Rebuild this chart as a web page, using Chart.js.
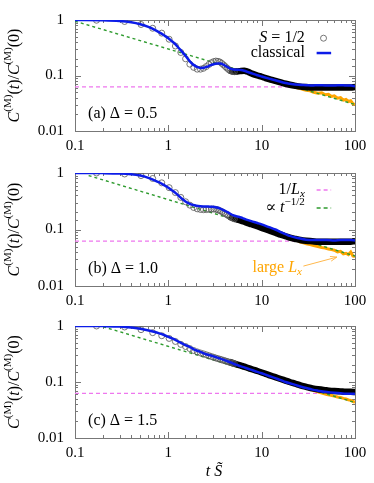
<!DOCTYPE html>
<html>
<head>
<meta charset="utf-8">
<script src="https://cdn.jsdelivr.net/npm/chart.js@4.4.1/dist/chart.umd.min.js"></script>
<style>
  html, body { margin: 0; padding: 0; background: #fff; }
  #wrap { position: relative; width: 374px; height: 483px; }
  canvas { position: absolute; left: 0; }
</style>
</head>
<body>
<div id="wrap">
  <canvas id="panel-a" width="374" height="153" style="top:0px"></canvas>
  <canvas id="panel-b" width="374" height="153" style="top:153px"></canvas>
  <canvas id="panel-c" width="374" height="177" style="top:306px"></canvas>
</div>
<script>
// tick labels
const xTickLabels = ["0.1", "1", "10", "100"];
const yTickLabels = ["0.01", "0.1", "1"];

// S = 1/2 data, open circles (sparse part)
const spinTimes = [0.17, 0.34, 0.51, 0.68, 0.85, 1.02, 1.19, 1.36, 1.53, 1.70, 1.87, 2.04, 2.21, 2.38, 2.55,
  2.72, 2.89, 3.06, 3.23, 3.40, 3.57, 3.74, 3.91, 4.08, 4.25, 4.42, 4.59, 4.76, 4.93, 5.10];
const spinA = [0.99, 0.94, 0.83, 0.71, 0.58, 0.45, 0.34, 0.26, 0.20, 0.16, 0.14, 0.13, 0.13, 0.135, 0.145,
  0.158, 0.17, 0.178, 0.182, 0.18, 0.175, 0.165, 0.155, 0.145, 0.136, 0.128, 0.123, 0.12, 0.118, 0.117];
const spinB = [1.0, 0.96, 0.9, 0.8, 0.67, 0.55, 0.45, 0.37, 0.31, 0.27, 0.245, 0.232, 0.226, 0.224, 0.225,
  0.228, 0.23, 0.23, 0.228, 0.222, 0.215, 0.207, 0.198, 0.19, 0.182, 0.175, 0.169, 0.163, 0.158, 0.154];
const spinC = [1.0, 0.96, 0.86, 0.76, 0.67, 0.6, 0.53, 0.47, 0.43, 0.395, 0.365, 0.345, 0.33, 0.318, 0.306,
  0.295, 0.285, 0.276, 0.268, 0.261, 0.255, 0.249, 0.243, 0.238, 0.233, 0.228, 0.224, 0.22, 0.216, 0.212];

// S = 1/2 data where the circles pile up into a solid band
const bandTimes = [4.5, 5, 5.5, 6, 6.5, 7, 7.5, 8, 9, 10, 11, 12, 14, 16, 18, 20, 23, 26, 30, 35, 40, 50, 60, 70, 80, 90, 100];
const bandA = [0.123, 0.118, 0.118, 0.121, 0.122, 0.118, 0.112, 0.107, 0.1, 0.095, 0.09, 0.086, 0.08, 0.075, 0.071,
  0.068, 0.065, 0.063, 0.062, 0.061, 0.061, 0.061, 0.061, 0.061, 0.061, 0.061, 0.062];
const bandB = [0.168, 0.158, 0.15, 0.143, 0.137, 0.131, 0.126, 0.122, 0.114, 0.107, 0.101, 0.096, 0.088, 0.081, 0.076,
  0.072, 0.068, 0.065, 0.063, 0.062, 0.061, 0.061, 0.061, 0.061, 0.061, 0.061, 0.062];
const bandC = [0.23, 0.215, 0.205, 0.196, 0.188, 0.18, 0.173, 0.167, 0.157, 0.148, 0.14, 0.133, 0.122, 0.113, 0.106,
  0.1, 0.093, 0.087, 0.082, 0.077, 0.074, 0.071, 0.069, 0.068, 0.067, 0.067, 0.066];

// classical (blue line)
const classicalTimes = [0.1, 0.2, 0.3, 0.4, 0.5, 0.6, 0.7, 0.8, 0.9, 1.0, 1.1, 1.2, 1.3, 1.4, 1.5, 1.6, 1.7, 1.8, 1.9, 2.0,
  2.2, 2.4, 2.6, 2.8, 3.0, 3.2, 3.4, 3.6, 3.8, 4.0, 4.3, 4.6, 5.0, 5.5, 6.0, 6.5, 7.0, 8, 9, 10,
  12, 14, 16, 18, 20, 25, 30, 35, 40, 50, 60, 70, 80, 90, 100];
const classicalA = [1.0, 0.99, 0.96, 0.91, 0.84, 0.76, 0.68, 0.6, 0.53, 0.47, 0.41, 0.36, 0.31, 0.27, 0.235, 0.205, 0.18, 0.163, 0.152, 0.145,
  0.137, 0.138, 0.144, 0.152, 0.158, 0.163, 0.165, 0.164, 0.16, 0.153, 0.142, 0.133, 0.128, 0.127, 0.126, 0.122, 0.117, 0.108, 0.101, 0.096,
  0.088, 0.082, 0.077, 0.073, 0.071, 0.068, 0.067, 0.066, 0.067, 0.066, 0.066, 0.067, 0.066, 0.066, 0.064];
const classicalB = [1.0, 0.995, 0.98, 0.95, 0.9, 0.83, 0.75, 0.68, 0.61, 0.55, 0.49, 0.44, 0.39, 0.35, 0.32, 0.3, 0.285, 0.275, 0.268, 0.263,
  0.258, 0.256, 0.255, 0.254, 0.252, 0.248, 0.242, 0.234, 0.225, 0.216, 0.203, 0.19, 0.178, 0.17, 0.163, 0.155, 0.148, 0.138, 0.13, 0.123,
  0.11, 0.1, 0.09, 0.083, 0.077, 0.07, 0.066, 0.065, 0.065, 0.065, 0.064, 0.065, 0.065, 0.065, 0.064];
const classicalC = [1.0, 0.995, 0.98, 0.94, 0.89, 0.84, 0.79, 0.74, 0.69, 0.64, 0.6, 0.56, 0.52, 0.49, 0.46, 0.44, 0.42, 0.4, 0.38, 0.365,
  0.345, 0.325, 0.31, 0.3, 0.29, 0.28, 0.27, 0.262, 0.254, 0.246, 0.235, 0.225, 0.212, 0.2, 0.19, 0.182, 0.174, 0.162, 0.152, 0.143,
  0.128, 0.117, 0.108, 0.1, 0.095, 0.085, 0.078, 0.073, 0.07, 0.066, 0.064, 0.063, 0.062, 0.062, 0.061];

// large L_x (orange)
const largeTimesAB = [12, 14, 16, 18, 20, 22, 24, 26, 28, 30, 33, 36, 40, 44, 48, 52, 56, 60, 65, 70, 75, 80, 85, 90, 95, 100];
const largeA = [0.087, 0.081, 0.077, 0.072, 0.068, 0.064, 0.06, 0.058, 0.056, 0.054, 0.053, 0.05, 0.048, 0.049, 0.045, 0.046,
  0.042, 0.043, 0.039, 0.04, 0.036, 0.037, 0.034, 0.035, 0.031, 0.03];
const largeB = [0.096, 0.089, 0.083, 0.077, 0.072, 0.068, 0.064, 0.06, 0.058, 0.056, 0.054, 0.052, 0.05, 0.048, 0.047, 0.045,
  0.044, 0.043, 0.04, 0.041, 0.037, 0.038, 0.036, 0.04, 0.034, 0.033];
const largeTimesC = [30, 35, 40, 45, 50, 55, 60, 65, 70, 75, 80, 85, 90, 95, 100];
const largeC = [0.078, 0.072, 0.067, 0.063, 0.06, 0.058, 0.056, 0.054, 0.053, 0.051, 0.05, 0.048, 0.047, 0.045, 0.043];

// guide lines: t^(-1/2) and 1/L_x
const powerTimesA = [0.1, 100];
const powerA = [0.95, 0.03];
const powerTimesB = [0.14, 100];
const powerB = [0.9, 0.034];
const powerTimesC = [0.2, 100];
const powerC = [0.97, 0.043];
const invLxTimes = [0.1, 100];
const invLx = [0.0625, 0.0625];

const panelTags = ["(a)", "(b)", "(c)"];
const panelDeltas = ["0.5", "1.0", "1.5"];

const SERIF = '"Liberation Serif", "DejaVu Serif", serif';
const BLUE = "#0c1ce8";
const ORANGE = "#ffa500";
const GREEN = "#2e9b2e";
const PINK = "#ee77ee";
const CIRCLE = "#555";

const pts = (xs, ys) => xs.map((x, i) => ({ x, y: ys[i] }));

const labelFor = (list) => (v) => {
  const s = list.find((l) => Math.abs(Number(l) / v - 1) < 1e-6);
  return s === undefined ? "" : s;
};

const isDecade = (v) => {
  const l = Math.log10(v);
  return Math.abs(l - Math.round(l)) < 1e-6;
};

// gnuplot style frame with inward ticks on all four sides
const framePlugin = {
  id: "frame",
  beforeDatasetsDraw(chart) {
    const { ctx, chartArea: a, scales } = chart;
    ctx.save();
    ctx.strokeStyle = "#777";
    ctx.lineWidth = 1;
    ctx.beginPath();
    scales.x.ticks.forEach((t) => {
      const px = Math.round(scales.x.getPixelForValue(t.value)) + 0.5;
      const len = isDecade(t.value) ? 6 : 3;
      ctx.moveTo(px, a.bottom);
      ctx.lineTo(px, a.bottom - len);
      ctx.moveTo(px, a.top);
      ctx.lineTo(px, a.top + len);
    });
    scales.y.ticks.forEach((t) => {
      const py = Math.round(scales.y.getPixelForValue(t.value)) + 0.5;
      const len = isDecade(t.value) ? 6 : 3;
      ctx.moveTo(a.left, py);
      ctx.lineTo(a.left + len, py);
      ctx.moveTo(a.right, py);
      ctx.lineTo(a.right - len, py);
    });
    ctx.stroke();
    ctx.strokeRect(Math.round(a.left) + 0.5, Math.round(a.top) + 0.5,
      Math.round(a.right - a.left), Math.round(a.bottom - a.top));
    ctx.restore();
  },
};

// small rich text helper: italic, superscript and subscript pieces
const segFont = (s, size) => {
  const sz = s.sup || s.sub ? Math.round(size * 0.7) : size;
  return (s.it ? "italic " : "") + sz + "px " + SERIF;
};

const richWidth = (ctx, segs, size) =>
  segs.reduce((w, s) => {
    ctx.font = segFont(s, size);
    return w + ctx.measureText(s.t).width;
  }, 0);

const drawRich = (ctx, segs, x, y, size, align, color) => {
  const w = richWidth(ctx, segs, size);
  let cx = align === "right" ? x - w : align === "center" ? x - w / 2 : x;
  ctx.fillStyle = color;
  ctx.textBaseline = "middle";
  ctx.textAlign = "left";
  segs.forEach((s) => {
    ctx.font = segFont(s, size);
    const dy = s.sup ? -size * 0.4 : s.sub ? size * 0.25 : 0;
    ctx.fillText(s.t, cx, y + dy);
    cx += ctx.measureText(s.t).width;
  });
};

const yTitle = [
  { t: "C", it: 1 }, { t: "(M)", sup: 1 }, { t: "(" }, { t: "t", it: 1 }, { t: ")/" },
  { t: "C", it: 1 }, { t: "(M)", sup: 1 }, { t: "(0)" },
];

const textPlugin = (idx) => ({
  id: "texts" + idx,
  afterDatasetsDraw(chart) {
    const { ctx, chartArea: a, scales: { x, y } } = chart;
    const X = (v) => x.getPixelForValue(v);
    const Y = (v) => y.getPixelForValue(v);
    ctx.save();

    // y axis title
    ctx.save();
    ctx.translate(15, (a.top + a.bottom) / 2);
    ctx.rotate(-Math.PI / 2);
    drawRich(ctx, yTitle, 0, 0, 16, "center", "#000");
    ctx.restore();

    // panel tag
    drawRich(ctx, [{ t: panelTags[idx] + " \u0394 = " + panelDeltas[idx] }], X(0.138), Y(0.02), 16, "left", "#000");

    if (idx === 0) {
      drawRich(ctx, [{ t: "S", it: 1 }, { t: " = 1/2" }], X(29), Y(0.47), 16, "right", "#000");
      ctx.strokeStyle = CIRCLE;
      ctx.lineWidth = 0.8;
      ctx.beginPath();
      ctx.arc(X(46), Y(0.47), 3, 0, Math.PI * 2);
      ctx.stroke();
      drawRich(ctx, [{ t: "classical" }], X(29), Y(0.254), 16, "right", "#000");
      ctx.strokeStyle = BLUE;
      ctx.lineWidth = 2.5;
      ctx.beginPath();
      ctx.moveTo(X(38.8), Y(0.254));
      ctx.lineTo(X(55.5), Y(0.254));
      ctx.stroke();
    }

    if (idx === 1) {
      drawRich(ctx, [{ t: "1/" }, { t: "L", it: 1 }, { t: "x", it: 1, sub: 1 }], X(29), Y(0.5), 16, "right", "#000");
      drawRich(ctx, [{ t: "\u221D " }, { t: "t", it: 1 }, { t: "\u22121/2", sup: 1 }], X(29), Y(0.24), 16, "right", "#000");
      ctx.lineWidth = 1.3;
      ctx.setLineDash([4, 3]);
      ctx.strokeStyle = PINK;
      ctx.beginPath();
      ctx.moveTo(X(38.8), Y(0.5));
      ctx.lineTo(X(55.5), Y(0.5));
      ctx.stroke();
      ctx.strokeStyle = GREEN;
      ctx.beginPath();
      ctx.moveTo(X(38.8), Y(0.24));
      ctx.lineTo(X(55.5), Y(0.24));
      ctx.stroke();
      ctx.setLineDash([]);

      // large L_x note with arrow
      drawRich(ctx, [{ t: "large " }, { t: "L", it: 1 }, { t: "x", it: 1, sub: 1 }], X(27), Y(0.021), 16, "right", ORANGE);
      const x0 = X(28), y0 = Y(0.0225), x1 = X(64), y1 = Y(0.0325);
      const ang = Math.atan2(y1 - y0, x1 - x0);
      ctx.strokeStyle = "#ffb84d";
      ctx.lineWidth = 1;
      ctx.beginPath();
      ctx.moveTo(x0, y0);
      ctx.lineTo(x1, y1);
      ctx.moveTo(x1 - 7 * Math.cos(ang - 0.35), y1 - 7 * Math.sin(ang - 0.35));
      ctx.lineTo(x1, y1);
      ctx.lineTo(x1 - 7 * Math.cos(ang + 0.35), y1 - 7 * Math.sin(ang + 0.35));
      ctx.stroke();
    }

    if (idx === 2) {
      drawRich(ctx, [{ t: "t", it: 1 }, { t: " " }, { t: "S\u0303", it: 1 }], (a.left + a.right) / 2 - 1, a.bottom + 34, 16, "center", "#000");
    }
    ctx.restore();
  },
});

const makePanel = (canvasId, idx, d) => {
  const heights = [153, 153, 177];
  const tops = [10, 13, 16];
  const bottoms = [131, 134, 132];
  return new Chart(document.getElementById(canvasId), {
    type: "line",
    data: {
      datasets: [
        { label: "1/Lx", data: pts(invLxTimes, invLx), borderColor: PINK, borderWidth: 1.2,
          borderDash: [4, 3], pointRadius: 0, order: 6 },
        { label: "large Lx", data: pts(d.largeT, d.large), borderColor: ORANGE, borderWidth: 3,
          pointRadius: 0, order: 5 },
        { label: "t^-1/2", data: pts(d.powerT, d.power), borderColor: GREEN, borderWidth: 1.4,
          borderDash: [3, 3], pointRadius: 0, order: 4 },
        { label: "S=1/2 band", data: pts(bandTimes, d.band), borderColor: "#000", borderWidth: 6.5,
          pointRadius: 0, order: 3, cubicInterpolationMode: "monotone" },
        { label: "S=1/2", data: pts(spinTimes, d.spin), showLine: false, pointRadius: 3,
          pointBorderColor: CIRCLE, pointBorderWidth: 0.8, pointBackgroundColor: "rgba(0,0,0,0)", order: 2 },
        { label: "classical", data: pts(classicalTimes, d.classical), borderColor: BLUE, borderWidth: 2.5,
          pointRadius: 0, order: 1, cubicInterpolationMode: "monotone" },
      ],
    },
    options: {
      responsive: false,
      animation: false,
      devicePixelRatio: 1,
      layout: { padding: { top: tops[idx], right: 19, left: 0, bottom: 0 } },
      plugins: { legend: { display: false }, tooltip: { enabled: false } },
      scales: {
        x: {
          type: "logarithmic",
          min: 0.1,
          max: 100,
          grid: { display: false, drawTicks: false },
          border: { display: false },
          ticks: { autoSkip: false, maxRotation: 0, padding: 6, color: "#000",
            font: { family: SERIF, size: 15 }, callback: labelFor(xTickLabels) },
          afterFit: (s) => { s.height = heights[idx] - bottoms[idx]; },
        },
        y: {
          type: "logarithmic",
          min: 0.01,
          max: 1,
          grid: { display: false, drawTicks: false },
          border: { display: false },
          ticks: { autoSkip: false, padding: 11, color: "#000",
            font: { family: SERIF, size: 15 }, callback: labelFor(yTickLabels) },
          afterFit: (s) => { s.width = 75; },
        },
      },
    },
    plugins: [framePlugin, textPlugin(idx)],
  });
};

makePanel("panel-a", 0, { spin: spinA, band: bandA, classical: classicalA, largeT: largeTimesAB, large: largeA,
  powerT: powerTimesA, power: powerA });
makePanel("panel-b", 1, { spin: spinB, band: bandB, classical: classicalB, largeT: largeTimesAB, large: largeB,
  powerT: powerTimesB, power: powerB });
makePanel("panel-c", 2, { spin: spinC, band: bandC, classical: classicalC, largeT: largeTimesC, large: largeC,
  powerT: powerTimesC, power: powerC });
</script>
</body>
</html>
